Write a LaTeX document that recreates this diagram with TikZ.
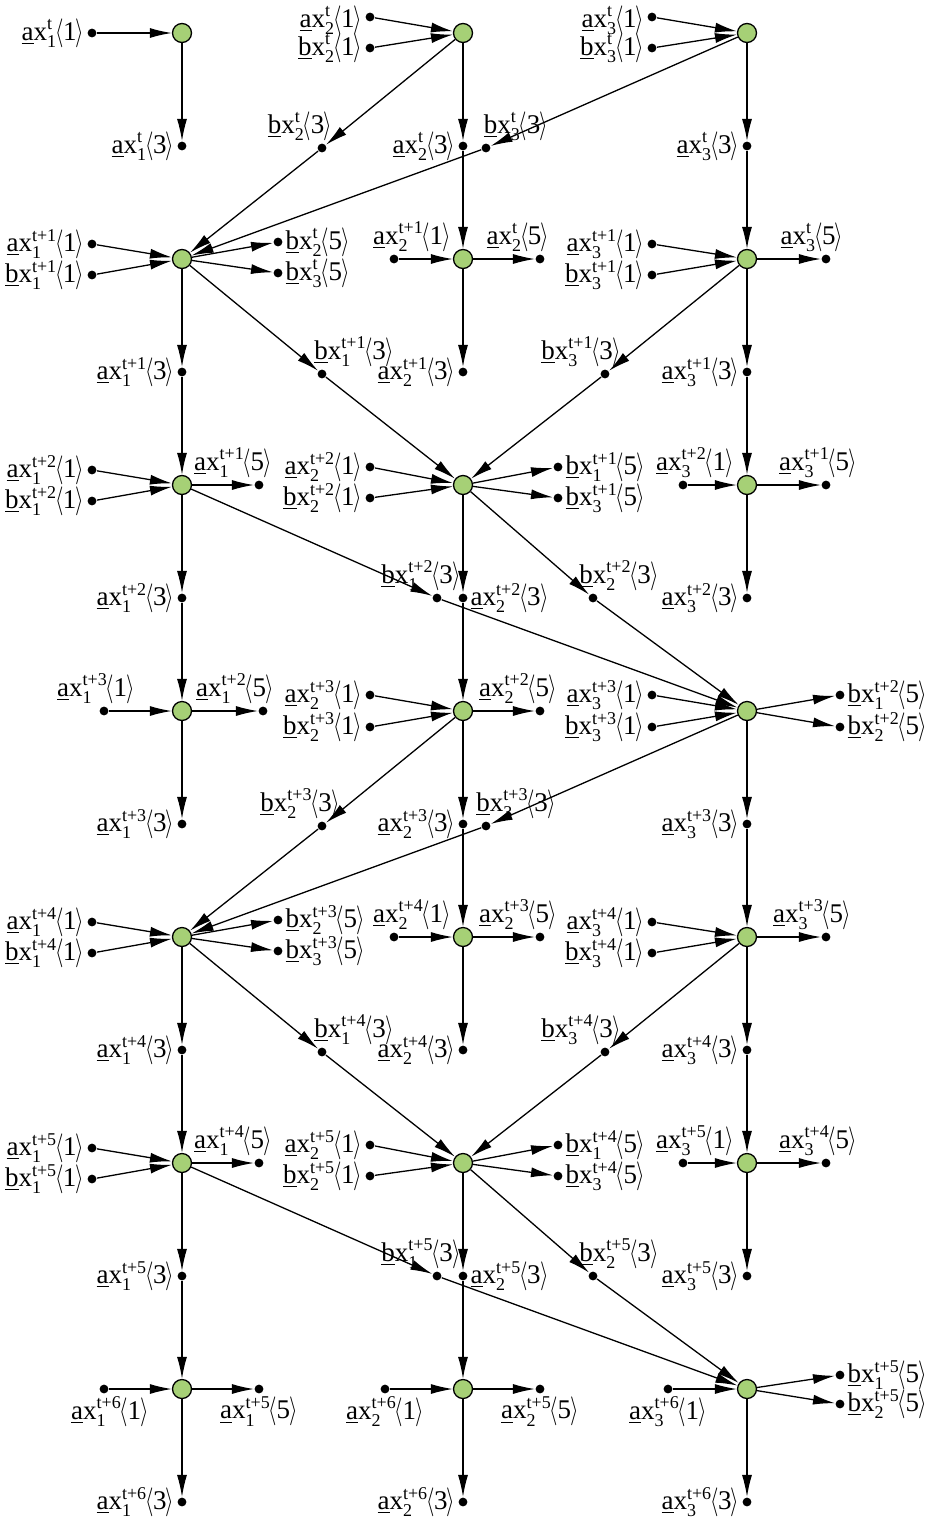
\documentclass[tikz,border=0pt]{standalone}
\usepackage{fontspec}
\setmainfont{Liberation Serif}
\usepackage{graphicx}
\usepackage{tikz}
\usetikzlibrary{arrows.meta}

\definecolor{pegreen}{RGB}{166,208,118}
% variable label: letter, index, time, port
\newcommand{\vscr}[1]{\mbox{\fontsize{9}{9}\selectfont #1}}
\newcommand{\lang}{\scalebox{0.75}[1]{$\langle$}}
\newcommand{\rang}{\scalebox{0.75}[1]{$\rangle$}}
\newcommand{\vlab}[4]{\underline{#1}x$_{\vscr{#2}}^{\vscr{#3}}$\kern-1pt\lang\kern-0.3pt#4\kern-0.3pt\rang}

\begin{document}
\begin{tikzpicture}[x=0.5pt, y=-0.5pt, line width=0.65pt,
    >={Latex[length=11pt,width=5pt]},
    pe/.style={circle, draw, fill=pegreen, minimum size=9.5pt, inner sep=0pt},
    dot/.style={circle, fill=black, minimum size=4.4pt, inner sep=0pt},
    every label/.style={font=\fontsize{13.5}{16}\selectfont, inner sep=1pt}]

    \useasboundingbox (0,0) rectangle (931,1521);

    % Processing elements
    \node[pe] (p10) at (182,33) {};
    \node[pe] (p20) at (463,33) {};
    \node[pe] (p30) at (747,33) {};
    \node[pe] (p11) at (182,259) {};
    \node[pe] (p21) at (463,259) {};
    \node[pe] (p31) at (747,259) {};
    \node[pe] (p12) at (182,485) {};
    \node[pe] (p22) at (463,485) {};
    \node[pe] (p32) at (747,485) {};
    \node[pe] (p13) at (182,711) {};
    \node[pe] (p23) at (463,711) {};
    \node[pe] (p33) at (747,711) {};
    \node[pe] (p14) at (182,937) {};
    \node[pe] (p24) at (463,937) {};
    \node[pe] (p34) at (747,937) {};
    \node[pe] (p15) at (182,1163) {};
    \node[pe] (p25) at (463,1163) {};
    \node[pe] (p35) at (747,1163) {};
    \node[pe] (p16) at (182,1389) {};
    \node[pe] (p26) at (463,1389) {};
    \node[pe] (p36) at (747,1389) {};

    % Row t
    \node[dot, label={left:{\vlab{a}{1}{t}{1}}}] (a1in0) at (92,33) {};
    \node[dot, label={left:{\vlab{a}{1}{t}{3}}}] (a1o0) at (182,146) {};
    \node[dot, label={[yshift=-1.5pt]left:{\vlab{a}{2}{t}{1}}}] (a2in0) at (370,17) {};
    \node[dot, label={left:{\vlab{b}{2}{t}{1}}}] (b2in0) at (370,48) {};
    \node[dot, label={left:{\vlab{a}{2}{t}{3}}}] (a2o0) at (463,146) {};
    \node[dot, label={[xshift=-11pt]above:{\vlab{b}{2}{t}{3}}}] (b2o0) at (322,148) {};
    \node[dot, label={[yshift=-1.5pt]left:{\vlab{a}{3}{t}{1}}}] (a3in0) at (652,17) {};
    \node[dot, label={left:{\vlab{b}{3}{t}{1}}}] (b3in0) at (652,48) {};
    \node[dot, label={left:{\vlab{a}{3}{t}{3}}}] (a3o0) at (747,146) {};
    \node[dot, label={[xshift=15pt]above:{\vlab{b}{3}{t}{3}}}] (b3o0) at (486,148) {};

    \draw[->] (a1in0) -- (p10);
    \draw[->] (p10) -- (a1o0);
    \draw[->] (a2in0) -- (p20);
    \draw[->] (b2in0) -- (p20);
    \draw[->] (p20) -- (a2o0);
    \draw[->] (p20) -- (b2o0);
    \draw[->] (a3in0) -- (p30);
    \draw[->] (b3in0) -- (p30);
    \draw[->] (p30) -- (a3o0);
    \draw[->] (p30) -- (b3o0);

    % Row t+1
    \node[dot, label={left:{\vlab{a}{1}{t+1}{1}}}] (a1in1) at (92,244) {};
    \node[dot, label={left:{\vlab{b}{1}{t+1}{1}}}] (b1in1) at (92,275) {};
    \node[dot, label={right:{\vlab{b}{2}{t}{5}}}] (b2f0) at (278,242) {};
    \node[dot, label={right:{\vlab{b}{3}{t}{5}}}] (b3f0) at (278,273) {};
    \node[dot, label={left:{\vlab{a}{1}{t+1}{3}}}] (a1o1) at (182,372) {};
    \node[dot, label={[xshift=16pt]above:{\vlab{b}{1}{t+1}{3}}}] (b1o1) at (322,374) {};
    \node[dot, label={[xshift=9pt]above:{\vlab{a}{2}{t+1}{1}}}] (a2in1) at (394,259) {};
    \node[dot, label={[xshift=-11pt]above:{\vlab{a}{2}{t}{5}}}] (a2f0) at (540,259) {};
    \node[dot, label={left:{\vlab{a}{2}{t+1}{3}}}] (a2o1) at (463,372) {};
    \node[dot, label={left:{\vlab{a}{3}{t+1}{1}}}] (a3in1) at (652,244) {};
    \node[dot, label={left:{\vlab{b}{3}{t+1}{1}}}] (b3in1) at (652,275) {};
    \node[dot, label={[xshift=-7pt]above:{\vlab{a}{3}{t}{5}}}] (a3f0) at (826,259) {};
    \node[dot, label={left:{\vlab{a}{3}{t+1}{3}}}] (a3o1) at (747,372) {};
    \node[dot, label={[xshift=-12pt]above:{\vlab{b}{3}{t+1}{3}}}] (b3o1) at (605,374) {};

    \draw[->] (b2o0) -- (p11);
    \draw[->] (b3o0) -- (p11);
    \draw[->] (a1in1) -- (p11);
    \draw[->] (b1in1) -- (p11);
    \draw[->] (p11) -- (b2f0);
    \draw[->] (p11) -- (b3f0);
    \draw[->] (p11) -- (a1o1);
    \draw[->] (p11) -- (b1o1);
    \draw[->] (a2o0) -- (p21);
    \draw[->] (a2in1) -- (p21);
    \draw[->] (p21) -- (a2f0);
    \draw[->] (p21) -- (a2o1);
    \draw[->] (a3o0) -- (p31);
    \draw[->] (a3in1) -- (p31);
    \draw[->] (b3in1) -- (p31);
    \draw[->] (p31) -- (a3f0);
    \draw[->] (p31) -- (a3o1);
    \draw[->] (p31) -- (b3o1);

    % Row t+2
    \node[dot, label={left:{\vlab{a}{1}{t+2}{1}}}] (a1in2) at (92,470) {};
    \node[dot, label={left:{\vlab{b}{1}{t+2}{1}}}] (b1in2) at (92,501) {};
    \node[dot, label={[xshift=-13pt]above:{\vlab{a}{1}{t+1}{5}}}] (a1f1) at (259,485) {};
    \node[dot, label={left:{\vlab{a}{1}{t+2}{3}}}] (a1o2) at (182,598) {};
    \node[dot, label={[xshift=-8pt]above:{\vlab{b}{1}{t+2}{3}}}] (b1o2) at (437,598) {};
    \node[dot, label={left:{\vlab{a}{2}{t+2}{1}}}] (a2in2) at (370,467) {};
    \node[dot, label={left:{\vlab{b}{2}{t+2}{1}}}] (b2in2) at (370,498) {};
    \node[dot, label={right:{\vlab{b}{1}{t+1}{5}}}] (b1f1) at (558,467) {};
    \node[dot, label={right:{\vlab{b}{3}{t+1}{5}}}] (b3f1) at (558,498) {};
    \node[dot, label={right:{\vlab{a}{2}{t+2}{3}}}] (a2o2) at (463,598) {};
    \node[dot, label={[xshift=13pt]above:{\vlab{b}{2}{t+2}{3}}}] (b2o2) at (593,598) {};
    \node[dot, label={[xshift=6pt]above:{\vlab{a}{3}{t+2}{1}}}] (a3in2) at (683,485) {};
    \node[dot, label={[xshift=-4pt]above:{\vlab{a}{3}{t+1}{5}}}] (a3f1) at (826,485) {};
    \node[dot, label={left:{\vlab{a}{3}{t+2}{3}}}] (a3o2) at (747,598) {};

    \draw[->] (a1o1) -- (p12);
    \draw[->] (a1in2) -- (p12);
    \draw[->] (b1in2) -- (p12);
    \draw[->] (p12) -- (a1f1);
    \draw[->] (p12) -- (a1o2);
    \draw[->] (p12) -- (b1o2);
    \draw[->] (b1o1) -- (p22);
    \draw[->] (b3o1) -- (p22);
    \draw[->] (a2in2) -- (p22);
    \draw[->] (b2in2) -- (p22);
    \draw[->] (p22) -- (b1f1);
    \draw[->] (p22) -- (b3f1);
    \draw[->] (p22) -- (a2o2);
    \draw[->] (p22) -- (b2o2);
    \draw[->] (a3o1) -- (p32);
    \draw[->] (a3in2) -- (p32);
    \draw[->] (p32) -- (a3f1);
    \draw[->] (p32) -- (a3o2);

    % Row t+3
    \node[dot, label={[xshift=-4pt]above:{\vlab{a}{1}{t+3}{1}}}] (a1in3) at (104,711) {};
    \node[dot, label={[xshift=-14pt]above:{\vlab{a}{1}{t+2}{5}}}] (a1f2) at (263,711) {};
    \node[dot, label={left:{\vlab{a}{1}{t+3}{3}}}] (a1o3) at (182,824) {};
    \node[dot, label={left:{\vlab{a}{2}{t+3}{1}}}] (a2in3) at (370,695) {};
    \node[dot, label={left:{\vlab{b}{2}{t+3}{1}}}] (b2in3) at (370,727) {};
    \node[dot, label={[xshift=-11pt]above:{\vlab{a}{2}{t+2}{5}}}] (a2f2) at (540,711) {};
    \node[dot, label={left:{\vlab{a}{2}{t+3}{3}}}] (a2o3) at (463,824) {};
    \node[dot, label={[xshift=-11pt]above:{\vlab{b}{2}{t+3}{3}}}] (b2o3) at (322,826) {};
    \node[dot, label={left:{\vlab{a}{3}{t+3}{1}}}] (a3in3) at (652,695) {};
    \node[dot, label={left:{\vlab{b}{3}{t+3}{1}}}] (b3in3) at (652,727) {};
    \node[dot, label={right:{\vlab{b}{1}{t+2}{5}}}] (b1f2) at (840,695) {};
    \node[dot, label={right:{\vlab{b}{2}{t+2}{5}}}] (b2f2) at (840,727) {};
    \node[dot, label={left:{\vlab{a}{3}{t+3}{3}}}] (a3o3) at (747,824) {};
    \node[dot, label={[xshift=15pt]above:{\vlab{b}{3}{t+3}{3}}}] (b3o3) at (486,826) {};

    \draw[->] (a1o2) -- (p13);
    \draw[->] (a1in3) -- (p13);
    \draw[->] (p13) -- (a1f2);
    \draw[->] (p13) -- (a1o3);
    \draw[->] (a2o2) -- (p23);
    \draw[->] (a2in3) -- (p23);
    \draw[->] (b2in3) -- (p23);
    \draw[->] (p23) -- (a2f2);
    \draw[->] (p23) -- (a2o3);
    \draw[->] (p23) -- (b2o3);
    \draw[->] (b1o2) -- (p33);
    \draw[->] (b2o2) -- (p33);
    \draw[->] (a3in3) -- (p33);
    \draw[->] (b3in3) -- (p33);
    \draw[->] (p33) -- (b1f2);
    \draw[->] (p33) -- (b2f2);
    \draw[->] (p33) -- (a3o3);
    \draw[->] (p33) -- (b3o3);

    % Row t+4
    \node[dot, label={left:{\vlab{a}{1}{t+4}{1}}}] (a1in4) at (92,922) {};
    \node[dot, label={left:{\vlab{b}{1}{t+4}{1}}}] (b1in4) at (92,953) {};
    \node[dot, label={right:{\vlab{b}{2}{t+3}{5}}}] (b2f3) at (278,920) {};
    \node[dot, label={right:{\vlab{b}{3}{t+3}{5}}}] (b3f3) at (278,951) {};
    \node[dot, label={left:{\vlab{a}{1}{t+4}{3}}}] (a1o4) at (182,1050) {};
    \node[dot, label={[xshift=16pt]above:{\vlab{b}{1}{t+4}{3}}}] (b1o4) at (322,1052) {};
    \node[dot, label={[xshift=9pt]above:{\vlab{a}{2}{t+4}{1}}}] (a2in4) at (394,937) {};
    \node[dot, label={[xshift=-11pt]above:{\vlab{a}{2}{t+3}{5}}}] (a2f3) at (540,937) {};
    \node[dot, label={left:{\vlab{a}{2}{t+4}{3}}}] (a2o4) at (463,1050) {};
    \node[dot, label={left:{\vlab{a}{3}{t+4}{1}}}] (a3in4) at (652,922) {};
    \node[dot, label={left:{\vlab{b}{3}{t+4}{1}}}] (b3in4) at (652,953) {};
    \node[dot, label={[xshift=-7pt]above:{\vlab{a}{3}{t+3}{5}}}] (a3f3) at (826,937) {};
    \node[dot, label={left:{\vlab{a}{3}{t+4}{3}}}] (a3o4) at (747,1050) {};
    \node[dot, label={[xshift=-12pt]above:{\vlab{b}{3}{t+4}{3}}}] (b3o4) at (605,1052) {};

    \draw[->] (b2o3) -- (p14);
    \draw[->] (b3o3) -- (p14);
    \draw[->] (a1in4) -- (p14);
    \draw[->] (b1in4) -- (p14);
    \draw[->] (p14) -- (b2f3);
    \draw[->] (p14) -- (b3f3);
    \draw[->] (p14) -- (a1o4);
    \draw[->] (p14) -- (b1o4);
    \draw[->] (a2o3) -- (p24);
    \draw[->] (a2in4) -- (p24);
    \draw[->] (p24) -- (a2f3);
    \draw[->] (p24) -- (a2o4);
    \draw[->] (a3o3) -- (p34);
    \draw[->] (a3in4) -- (p34);
    \draw[->] (b3in4) -- (p34);
    \draw[->] (p34) -- (a3f3);
    \draw[->] (p34) -- (a3o4);
    \draw[->] (p34) -- (b3o4);

    % Row t+5
    \node[dot, label={left:{\vlab{a}{1}{t+5}{1}}}] (a1in5) at (92,1148) {};
    \node[dot, label={left:{\vlab{b}{1}{t+5}{1}}}] (b1in5) at (92,1179) {};
    \node[dot, label={[xshift=-13pt]above:{\vlab{a}{1}{t+4}{5}}}] (a1f4) at (259,1163) {};
    \node[dot, label={left:{\vlab{a}{1}{t+5}{3}}}] (a1o5) at (182,1276) {};
    \node[dot, label={[xshift=-8pt]above:{\vlab{b}{1}{t+5}{3}}}] (b1o5) at (437,1276) {};
    \node[dot, label={left:{\vlab{a}{2}{t+5}{1}}}] (a2in5) at (370,1145) {};
    \node[dot, label={left:{\vlab{b}{2}{t+5}{1}}}] (b2in5) at (370,1176) {};
    \node[dot, label={right:{\vlab{b}{1}{t+4}{5}}}] (b1f4) at (558,1145) {};
    \node[dot, label={right:{\vlab{b}{3}{t+4}{5}}}] (b3f4) at (558,1176) {};
    \node[dot, label={right:{\vlab{a}{2}{t+5}{3}}}] (a2o5) at (463,1276) {};
    \node[dot, label={[xshift=13pt]above:{\vlab{b}{2}{t+5}{3}}}] (b2o5) at (593,1276) {};
    \node[dot, label={[xshift=6pt]above:{\vlab{a}{3}{t+5}{1}}}] (a3in5) at (683,1163) {};
    \node[dot, label={[xshift=-4pt]above:{\vlab{a}{3}{t+4}{5}}}] (a3f4) at (826,1163) {};
    \node[dot, label={left:{\vlab{a}{3}{t+5}{3}}}] (a3o5) at (747,1276) {};

    \draw[->] (a1o4) -- (p15);
    \draw[->] (a1in5) -- (p15);
    \draw[->] (b1in5) -- (p15);
    \draw[->] (p15) -- (a1f4);
    \draw[->] (p15) -- (a1o5);
    \draw[->] (p15) -- (b1o5);
    \draw[->] (b1o4) -- (p25);
    \draw[->] (b3o4) -- (p25);
    \draw[->] (a2in5) -- (p25);
    \draw[->] (b2in5) -- (p25);
    \draw[->] (p25) -- (b1f4);
    \draw[->] (p25) -- (b3f4);
    \draw[->] (p25) -- (a2o5);
    \draw[->] (p25) -- (b2o5);
    \draw[->] (a3o4) -- (p35);
    \draw[->] (a3in5) -- (p35);
    \draw[->] (p35) -- (a3f4);
    \draw[->] (p35) -- (a3o5);

    % Row t+6
    \node[dot, label={[xshift=3pt]below:{\vlab{a}{1}{t+6}{1}}}] (a1in6) at (104,1389) {};
    \node[dot, label={below:{\vlab{a}{1}{t+5}{5}}}] (a1f5) at (259,1389) {};
    \node[dot, label={left:{\vlab{a}{1}{t+6}{3}}}] (a1o6) at (182,1502) {};
    \node[dot, label={below:{\vlab{a}{2}{t+6}{1}}}] (a2in6) at (385,1389) {};
    \node[dot, label={below:{\vlab{a}{2}{t+5}{5}}}] (a2f5) at (540,1389) {};
    \node[dot, label={left:{\vlab{a}{2}{t+6}{3}}}] (a2o6) at (463,1502) {};
    \node[dot, label={below:{\vlab{a}{3}{t+6}{1}}}] (a3in6) at (668,1389) {};
    \node[dot, label={right:{\vlab{b}{1}{t+5}{5}}}] (b1f5) at (840,1375) {};
    \node[dot, label={right:{\vlab{b}{2}{t+5}{5}}}] (b2f5) at (840,1404) {};
    \node[dot, label={left:{\vlab{a}{3}{t+6}{3}}}] (a3o6) at (747,1502) {};

    \draw[->] (a1o5) -- (p16);
    \draw[->] (a1in6) -- (p16);
    \draw[->] (p16) -- (a1f5);
    \draw[->] (p16) -- (a1o6);
    \draw[->] (a2o5) -- (p26);
    \draw[->] (a2in6) -- (p26);
    \draw[->] (p26) -- (a2f5);
    \draw[->] (p26) -- (a2o6);
    \draw[->] (b1o5) -- (p36);
    \draw[->] (b2o5) -- (p36);
    \draw[->] (a3in6) -- (p36);
    \draw[->] (p36) -- (b1f5);
    \draw[->] (p36) -- (b2f5);
    \draw[->] (p36) -- (a3o6);

\end{tikzpicture}
\end{document}
